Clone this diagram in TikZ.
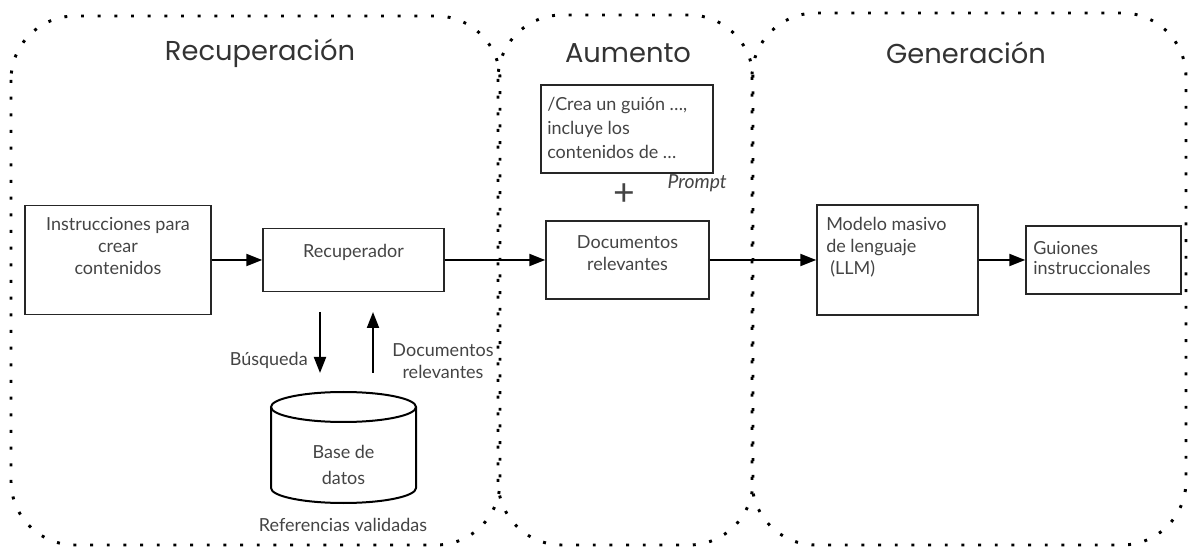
\documentclass[tikz,border=0pt]{standalone}
\usepackage{fontspec}
\setmainfont{Lato}
\newfontfamily\titlefont{Poppins}
\usetikzlibrary{arrows.meta}
\definecolor{ink}{HTML}{444444}
\begin{document}
\begin{tikzpicture}[x=0.75pt,y=-0.75pt,
  box/.style={draw=black!85, line width=1.1pt, inner sep=0pt},
  arr/.style={draw=black, line width=1.5pt, -{Triangle[length=12pt,width=9pt]}},
  region/.style={line width=2.2pt, dash pattern=on 2.2pt off 10.3pt, rounded corners=48pt},
  txt/.style={font=\fontsize{13.5}{16.5}\selectfont, text=ink, align=center, inner sep=0pt},
  ttl/.style={font=\titlefont\fontsize{20.5}{24}\selectfont, text=black!80, inner sep=0pt}]
\useasboundingbox (0,0) rectangle (1188,548);

% regions
\draw[region] (11,16) rectangle (500,545);
\draw[region] (498,15) rectangle (753,545);
\draw[region] (752,13) rectangle (1186,545);

\node[ttl] (t1) at (260,53) {Recuperación};
\node[ttl] (t2) at (628,53) {Aumento};
\node[ttl] (t3) at (966,53) {Generación};

% boxes
\node[box, minimum width=139.5pt, minimum height=81.75pt] (instr) at (118,260) {};
\node[txt] (instrT) at (118,246.5) {Instrucciones para\\crear\\contenidos};

\node[box, minimum width=135.75pt, minimum height=47.25pt] (recup) at (353.5,260) {};
\node[txt] (recupT) at (353.5,252) {Recuperador};

\node[box, minimum width=129pt, minimum height=66pt] (prompt) at (627,129) {};
\node[txt, align=left, anchor=west, font=\fontsize{13.5}{18}\selectfont] (promptT) at (547,128) {/Crea un guión …,\\incluye los\\contenidos de …};
\node[txt, anchor=east, font=\itshape\fontsize{14.5}{16}\selectfont] (promptL) at (727,183) {Prompt};
\node[txt, font=\fontsize{28}{28}\selectfont] (plus) at (624,195) {+};

\node[box, minimum width=122.25pt, minimum height=58.5pt] (docs) at (627.5,260) {};
\node[txt] (docsT) at (627.5,253.5) {Documentos\\relevantes};

\node[box, minimum width=120.75pt, minimum height=82.5pt] (llm) at (897.5,260) {};
\node[txt, align=left, anchor=west] (llmT) at (826,247.5) {Modelo masivo\\de lenguaje\\\hspace*{3pt}(LLM)};

\node[box, minimum width=116.25pt, minimum height=51pt] (guion) at (1103.5,260) {};
\node[txt, align=left, anchor=west, font=\fontsize{13.5}{15}\selectfont] (guionT) at (1033,258) {Guiones\\instruccionales};

% arrows between boxes
\draw[arr] (instr) -- (recup);
\draw[arr] (recup) -- (docs);
\draw[arr] (docs) -- (llm);
\draw[arr] (llm) -- (guion);

% vertical arrows
\coordinate (b1) at (320,312);
\coordinate (b2) at (320,373);
\coordinate (u1) at (373,373);
\coordinate (u2) at (373,312);
\draw[arr] (b1) -- (b2);
\draw[arr] (u1) -- (u2);
\node[txt, anchor=east] (busq) at (308,360) {Búsqueda};
\node[txt] (docrel) at (443,361) {Documentos\\relevantes};

% database cylinder
\draw[draw=black, line width=1.5pt] (271,407) -- (271,488) arc[start angle=180, end angle=0, x radius=72.5, y radius=15] -- (416,407);
\draw[draw=black, line width=1.5pt] (343.5,407) ellipse [x radius=72.5, y radius=15];
\node[txt, font=\fontsize{13.5}{19}\selectfont] (db) at (343.5,465) {Base de\\datos};
\node[txt] (ref) at (343,525) {Referencias validadas};
\end{tikzpicture}
\end{document}
